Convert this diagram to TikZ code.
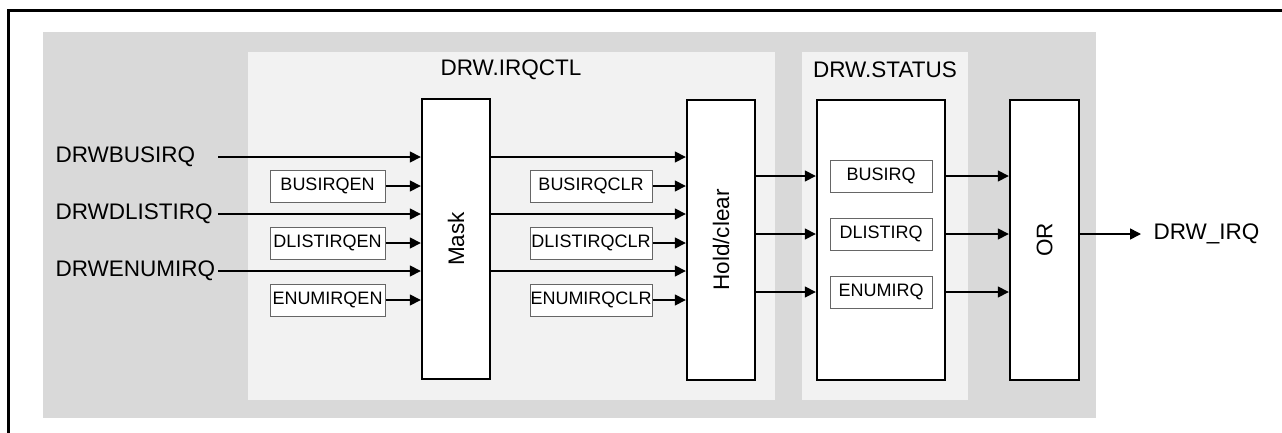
\documentclass[tikz,border=0pt]{standalone}
\usepackage{fontspec}
\setmainfont{Liberation Sans}
\usepackage{tikz}
\usetikzlibrary{arrows.meta,positioning}
\definecolor{bgdark}{HTML}{D9D9D9}
\definecolor{bglight}{HTML}{F2F2F2}

\begin{document}
\begin{tikzpicture}[x=1pt,y=-1pt,
    sig/.style={line width=1.5pt,-{Triangle[length=11pt,width=11pt]}},
    block/.style={draw,line width=2.4pt,fill=white,minimum width=68pt,minimum height=280pt,inner sep=0pt},
    regbox/.style={draw=black!60,line width=1pt,fill=white,minimum height=32pt,inner sep=0pt,font=\fontsize{18}{20}\selectfont},
    big/.style={font=\fontsize{22.5}{26}\selectfont}]
    \useasboundingbox (0,0) rectangle (1282,432);
    % Layer 1: frame and shaded panels
    \draw[line width=3pt] (8.5,440) -- (8.5,10.5) -- (1290,10.5);
    \fill[bgdark] (43,32) rectangle (1096,418);
    \fill[bglight] (248,52) rectangle (775,400);
    \fill[bglight] (802,52) rectangle (968,400);
    \node[big] (ctltitle) at (511,70) {DRW.IRQCTL};
    \node[big] (sttitle) at (885,70) {DRW.STATUS};
    % Layer 2: main blocks
    \node[block] (mask) at (456,239) {};
    \node[big,rotate=90] (masktxt) at (mask) {Mask};
    \node[block] (hold) at (721,240) {};
    \node[big,rotate=90] (holdtxt) at (hold) {Hold/clear};
    \node[block,minimum width=128pt] (status) at (881,240) {};
    \node[block,minimum width=69pt] (orgate) at (1044.5,240) {};
    \node[big,rotate=90] (ortxt) at (orgate) {OR};
    % inputs
    \node[big,anchor=west] (inbus) at (52,157) {DRWBUSIRQ};
    \node[big,anchor=west] (indlist) at (52,214) {DRWDLISTIRQ};
    \node[big,anchor=west] (inenum) at (52,271) {DRWENUMIRQ};
    \coordinate (busin) at (218,157);
    \coordinate (dlistin) at (218,214);
    \coordinate (enumin) at (218,271);
    \draw[sig] (busin) -- (busin -| mask.west);
    \draw[sig] (dlistin) -- (dlistin -| mask.west);
    \draw[sig] (enumin) -- (enumin -| mask.west);
    % enable bits
    \node[regbox,minimum width=115pt] (busen) at (327.5,186) {BUSIRQEN};
    \node[regbox,minimum width=115pt] (dlisten) at (327.5,243) {DLISTIRQEN};
    \node[regbox,minimum width=115pt] (enumen) at (327.5,300) {ENUMIRQEN};
    \draw[sig] (busen) -- (busen -| mask.west);
    \draw[sig] (dlisten) -- (dlisten -| mask.west);
    \draw[sig] (enumen) -- (enumen -| mask.west);
    % mask -> hold/clear
    \draw[sig] (busin -| mask.east) -- (busin -| hold.west);
    \draw[sig] (dlistin -| mask.east) -- (dlistin -| hold.west);
    \draw[sig] (enumin -| mask.east) -- (enumin -| hold.west);
    % clear bits
    \node[regbox,minimum width=122pt] (busclr) at (591,186) {BUSIRQCLR};
    \node[regbox,minimum width=122pt] (dlistclr) at (591,243) {DLISTIRQCLR};
    \node[regbox,minimum width=122pt] (enumclr) at (591,300) {ENUMIRQCLR};
    \draw[sig] (busclr) -- (busclr -| hold.west);
    \draw[sig] (dlistclr) -- (dlistclr -| hold.west);
    \draw[sig] (enumclr) -- (enumclr -| hold.west);
    % status bits
    \node[regbox,minimum width=102pt] (busst) at (881,176) {BUSIRQ};
    \node[regbox,minimum width=102pt] (dlistst) at (881,234) {DLISTIRQ};
    \node[regbox,minimum width=102pt] (enumst) at (881,292) {ENUMIRQ};
    \draw[sig] (busst -| hold.east) -- (busst -| status.west);
    \draw[sig] (dlistst -| hold.east) -- (dlistst -| status.west);
    \draw[sig] (enumst -| hold.east) -- (enumst -| status.west);
    \draw[sig] (busst -| status.east) -- (busst -| orgate.west);
    \draw[sig] (dlistst -| status.east) -- (dlistst -| orgate.west);
    \draw[sig] (enumst -| status.east) -- (enumst -| orgate.west);
    % output
    \node[big,anchor=west] (irqout) at (1150,234) {DRW\_IRQ};
    \draw[sig] (orgate.east |- irqout.west) -- ([xshift=-9pt]irqout.west);
\end{tikzpicture}
\end{document}
